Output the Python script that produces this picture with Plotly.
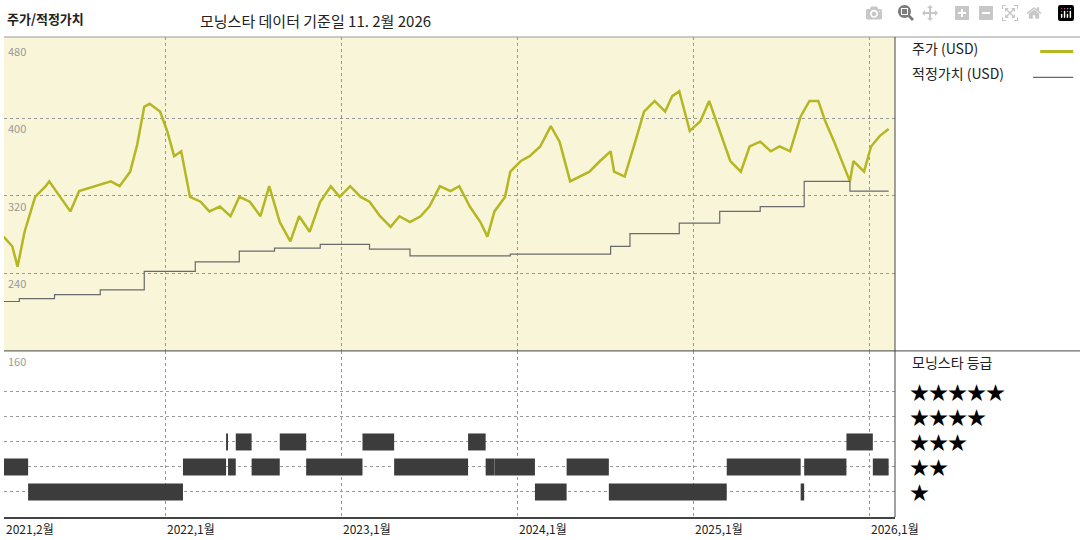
import plotly.graph_objects as go

# price (USD), x as decimal years
price_t = [2021.08, 2021.13, 2021.16, 2021.20, 2021.26, 2021.32, 2021.34, 2021.40, 2021.46, 2021.51,
           2021.60, 2021.69, 2021.74, 2021.80, 2021.84, 2021.88, 2021.91, 2021.97, 2022.01, 2022.05,
           2022.09, 2022.14, 2022.20, 2022.25, 2022.31, 2022.37, 2022.42, 2022.48, 2022.54, 2022.59,
           2022.65, 2022.71, 2022.76, 2022.82, 2022.88, 2022.94, 2022.99, 2023.05, 2023.11, 2023.16,
           2023.22, 2023.28, 2023.33, 2023.39, 2023.45, 2023.50, 2023.56, 2023.62, 2023.67, 2023.73,
           2023.79, 2023.83, 2023.87, 2023.93, 2023.96, 2024.02, 2024.07, 2024.13, 2024.19, 2024.24,
           2024.30, 2024.36, 2024.41, 2024.47, 2024.53, 2024.55, 2024.61, 2024.67, 2024.72, 2024.78,
           2024.84, 2024.88, 2024.92, 2024.98, 2025.04, 2025.09, 2025.15, 2025.21, 2025.27, 2025.32,
           2025.38, 2025.44, 2025.49, 2025.55, 2025.61, 2025.66, 2025.71, 2025.75, 2025.80, 2025.86,
           2025.89, 2025.91, 2025.97, 2026.01, 2026.06, 2026.11]
price = [278, 268, 247, 283, 319, 330, 335, 319, 304, 325,
         330, 335, 330, 345, 373, 412, 415, 407, 387, 361,
         366, 319, 314, 304, 309, 299, 319, 314, 299, 330,
         293, 273, 299, 283, 314, 330, 319, 330, 319, 314,
         299, 288, 299, 293, 299, 309, 330, 325, 330, 309,
         293, 278, 304, 319, 345, 356, 361, 371, 392, 376,
         335, 340, 345, 356, 366, 345, 340, 376, 407, 418,
         407, 423, 428, 387, 397, 418, 387, 356, 345, 371,
         376, 366, 371, 366, 402, 418, 418, 397, 376, 350,
         335, 356, 345, 371, 382, 389]

# fair value steps
fv_t = [2021.08, 2021.17, 2021.37, 2021.63, 2021.88, 2022.17, 2022.42, 2022.62, 2022.88, 2023.16,
        2023.39, 2023.96, 2024.53, 2024.64, 2024.92, 2025.15, 2025.38, 2025.63, 2025.89, 2026.11]
fv = [211, 214, 218, 223, 242, 252, 263, 266, 270, 265,
      258, 260, 268, 281, 292, 304, 309, 335, 325, 325]

# star rating periods
rating_start = [2021.08, 2021.22, 2022.10, 2022.345, 2022.356, 2022.40, 2022.49, 2022.65, 2022.80, 2023.12,
                2023.30, 2023.72, 2023.82, 2023.87, 2024.10, 2024.28, 2024.52, 2025.19, 2025.61, 2025.63,
                2025.87, 2026.02]
rating_end = [2021.22, 2022.10, 2022.345, 2022.356, 2022.40, 2022.49, 2022.65, 2022.80, 2023.12, 2023.30,
              2023.72, 2023.82, 2023.87, 2024.10, 2024.28, 2024.52, 2025.19, 2025.61, 2025.63, 2025.87,
              2026.02, 2026.11]
rating = [2, 1, 2, 3, 2, 3, 2, 3, 2, 3,
          2, 3, 2, 2, 1, 2, 1, 2, 1, 2,
          3, 2]

tick_vals = [2021.083, 2022.0, 2023.0, 2024.0, 2025.0, 2026.0]
tick_text = ["2021,2월", "2022,1월", "2023,1월", "2024,1월", "2025,1월", "2026,1월"]

FONT = "Noto Sans CJK KR, sans-serif"
OLIVE = "#b4b622"

fig = go.Figure()
fig.add_trace(go.Scatter(x=price_t, y=price, mode="lines", line=dict(color=OLIVE, width=2.5),
                         xaxis="x", yaxis="y"))
fig.add_trace(go.Scatter(x=fv_t, y=fv, mode="lines", line=dict(color="#6a6a6a", width=1.2, shape="hv"),
                         xaxis="x", yaxis="y"))

rx, ry = [], []
for s, e, r in zip(rating_start, rating_end, rating):
    rx += [s, e, None]
    ry += [r, r, None]
fig.add_trace(go.Scatter(x=rx, y=ry, mode="lines", line=dict(color="#3c3c3c", width=17),
                         xaxis="x2", yaxis="y2"))

xr = [2021.083, 2026.146]
grid = dict(showgrid=True, gridcolor="#999", griddash="dot", gridwidth=1)
fig.update_layout(
    width=1080, height=540, showlegend=False,
    margin=dict(l=4, r=185, t=37, b=23),
    paper_bgcolor="white", plot_bgcolor="white",
    font=dict(family=FONT, color="#222"),
    xaxis=dict(range=xr, tickvals=tick_vals, showticklabels=False, anchor="y", **grid, zeroline=False),
    xaxis2=dict(range=xr, tickvals=tick_vals, showticklabels=False, anchor="y2", matches="x", **grid,
                zeroline=False, showline=True, linecolor="#444", linewidth=1.5),
    yaxis=dict(domain=[0.346, 1], range=[160, 484], tickvals=[240, 320, 400], showticklabels=False,
               **grid, zeroline=False),
    yaxis2=dict(domain=[0, 0.346], range=[0, 6.64], tickvals=[1, 2, 3, 4, 5], showticklabels=False,
                **grid, zeroline=False),
    shapes=[
        dict(type="rect", xref="x", yref="y", x0=xr[0], x1=xr[1], y0=160, y1=484,
             fillcolor="#f8f5d8", line_width=0, layer="below"),
        dict(type="line", xref="paper", yref="paper", x0=0, x1=1.215, y0=1, y1=1,
             line=dict(color="#999", width=1)),
        dict(type="line", xref="paper", yref="paper", x0=1, x1=1, y0=0, y1=1,
             line=dict(color="#444", width=1)),
        dict(type="line", xref="paper", yref="paper", x0=1, x1=1.215, y0=0.346, y1=0.346,
             line=dict(color="#444", width=1)),
        dict(type="line", xref="paper", yref="paper", x0=0, x1=1, y0=0.346, y1=0.346,
             line=dict(color="#444", width=1)),
        dict(type="line", xref="paper", yref="paper", x0=1.163, x1=1.2, y0=0.97, y1=0.97,
             line=dict(color=OLIVE, width=3)),
        dict(type="line", xref="paper", yref="paper", x0=1.155, x1=1.2, y0=0.916, y1=0.916,
             line=dict(color="#6a6a6a", width=1.2)),
    ],
)

ann = [
    dict(text="<b>주가/적정가치</b>", x=5, y=18, size=13),
    dict(text="모닝스타 데이터 기준일 11. 2월 2026", x=198, y=20, size=15),
    dict(text="주가 (USD)", x=910, y=48, size=14),
    dict(text="적정가치 (USD)", x=910, y=73, size=14),
    dict(text="모닝스타 등급", x=910, y=362, size=14),
]
for a in ann:
    fig.add_annotation(text=a["text"], xref="paper", yref="paper",
                       x=(a["x"] - 4) / 891, y=(517 - a["y"]) / 480,
                       xanchor="left", yanchor="middle", showarrow=False,
                       font=dict(size=a["size"], color="#222"))

for n in range(5, 0, -1):
    fig.add_annotation(text="★" * n, xref="paper", yref="y2", x=(908 - 4) / 891, y=n,
                       xanchor="left", yanchor="middle", showarrow=False,
                       font=dict(size=19, color="black"))

for v in [480, 400, 320, 240]:
    fig.add_annotation(text=str(v), xref="paper", yref="y", x=0.002, y=v, xanchor="left", yanchor="top",
                       showarrow=False, font=dict(size=11, color="#999"))
fig.add_annotation(text="160", xref="paper", yref="y2", x=0.002, y=6.64, xanchor="left", yanchor="top",
                   showarrow=False, font=dict(size=11, color="#999"))

for v, t in zip(tick_vals, tick_text):
    fig.add_annotation(text=t, xref="x2", yref="paper", x=v, y=0, xanchor="left", yanchor="top",
                       yshift=-1, showarrow=False, font=dict(size=12, color="#222"))

fig.write_html("out.html", post_script="document.body.style.margin='0';")
